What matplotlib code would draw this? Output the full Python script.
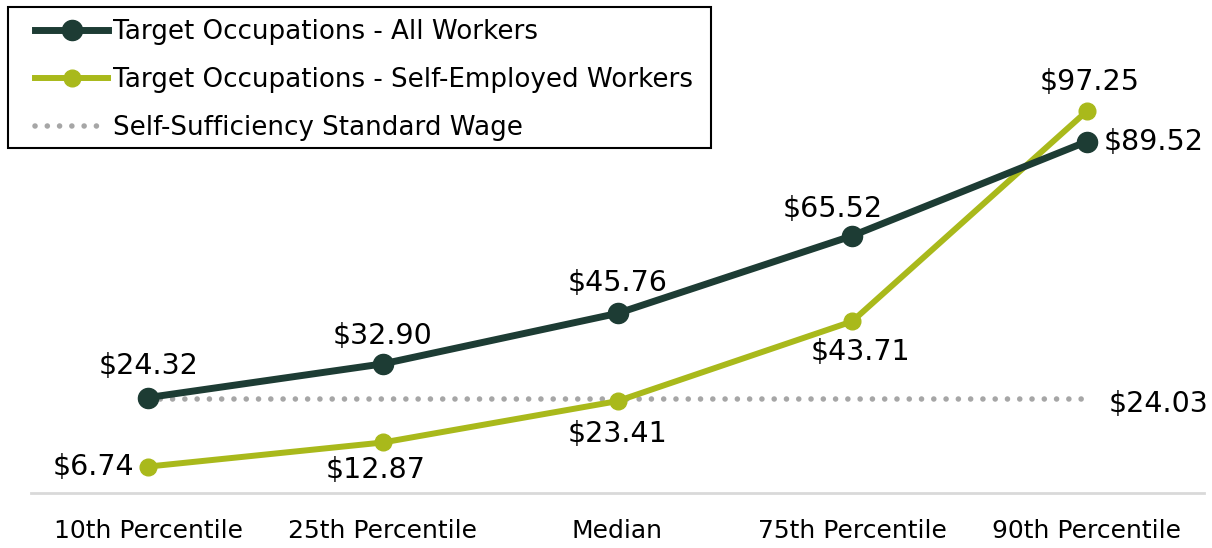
import matplotlib
matplotlib.use("Agg")
from matplotlib import pyplot as plt
from matplotlib.patches import Rectangle

categories = ["10th Percentile", "25th Percentile", "Median", "75th Percentile", "90th Percentile"]
all_workers = [24.32, 32.90, 45.76, 65.52, 89.52]
self_employed = [6.74, 12.87, 23.41, 43.71, 97.25]
standard_wage = 24.03

dark = "#1d3c34"
lime = "#a9b91b"
grey = "#a6a6a6"

plt.rcParams["font.family"] = ["DejaVu Sans"]

W, H = 1212, 548
fig = plt.figure(figsize=(W / 100, H / 100), dpi=100)
ax = fig.add_axes([31 / W, 55 / H, 1173 / W, 471 / H])

x = list(range(len(categories)))

ax.plot(x, all_workers, color=dark, linewidth=5, marker="o", markersize=14.5,
        label="Target Occupations - All Workers", zorder=3)
ax.plot(x, self_employed, color=lime, linewidth=4.3, marker="o", markersize=12,
        label="Target Occupations - Self-Employed Workers", zorder=2)
ax.plot(x, [standard_wage] * len(x), color=grey, linestyle=(0, (0.01, 2.2)),
        linewidth=4, dash_capstyle="round", label="Self-Sufficiency Standard Wage", zorder=1)

fs = 20.5
# labels for all workers
offs_all = [(0, 23), (0, 20), (0, 22), (-14, 19), (12, 0)]
for i, (v, o) in enumerate(zip(all_workers, offs_all)):
    ha = "left" if i == 4 else "center"
    ax.annotate(f"${v:.2f}", (i, v), xytext=o, textcoords="offset points",
                ha=ha, va="center", fontsize=fs)

offs_se = [(-10, 0), (-5, -20), (0, -24), (6, -22), (2, 21)]
for i, (v, o) in enumerate(zip(self_employed, offs_se)):
    ha = "right" if i == 0 else "center"
    ax.annotate(f"${v:.2f}", (i, v), xytext=o, textcoords="offset points",
                ha=ha, va="center", fontsize=fs)

ax.annotate(f"${standard_wage:.2f}", (4, standard_wage), xytext=(16, -4),
            textcoords="offset points", ha="left", va="center", fontsize=fs)

ax.set_xlim(-0.5, 4.5)
ax.set_ylim(0, 120)
ax.set_xticks(x)
ax.set_xticklabels(categories, fontsize=18)
ax.tick_params(axis="x", length=0, pad=19)
ax.set_yticks([])
for s in ["top", "right", "left"]:
    ax.spines[s].set_visible(False)
ax.spines["bottom"].set_color("#d9d9d9")
ax.spines["bottom"].set_linewidth(2)

# legend without its own frame, box drawn separately
leg = fig.legend(loc="upper left", bbox_to_anchor=(35 / W, 1 - 19 / H),
                 fontsize=18.8, frameon=False,
                 handlelength=2.8, handletextpad=0.2, labelspacing=0.85,
                 borderpad=0, borderaxespad=0)
fig.patches.append(Rectangle((8 / W, 1 - 148 / H), 703 / W, 141 / H,
                             transform=fig.transFigure, fill=False,
                             edgecolor="black", linewidth=1.5))

fig.savefig("out.png", dpi=100)
